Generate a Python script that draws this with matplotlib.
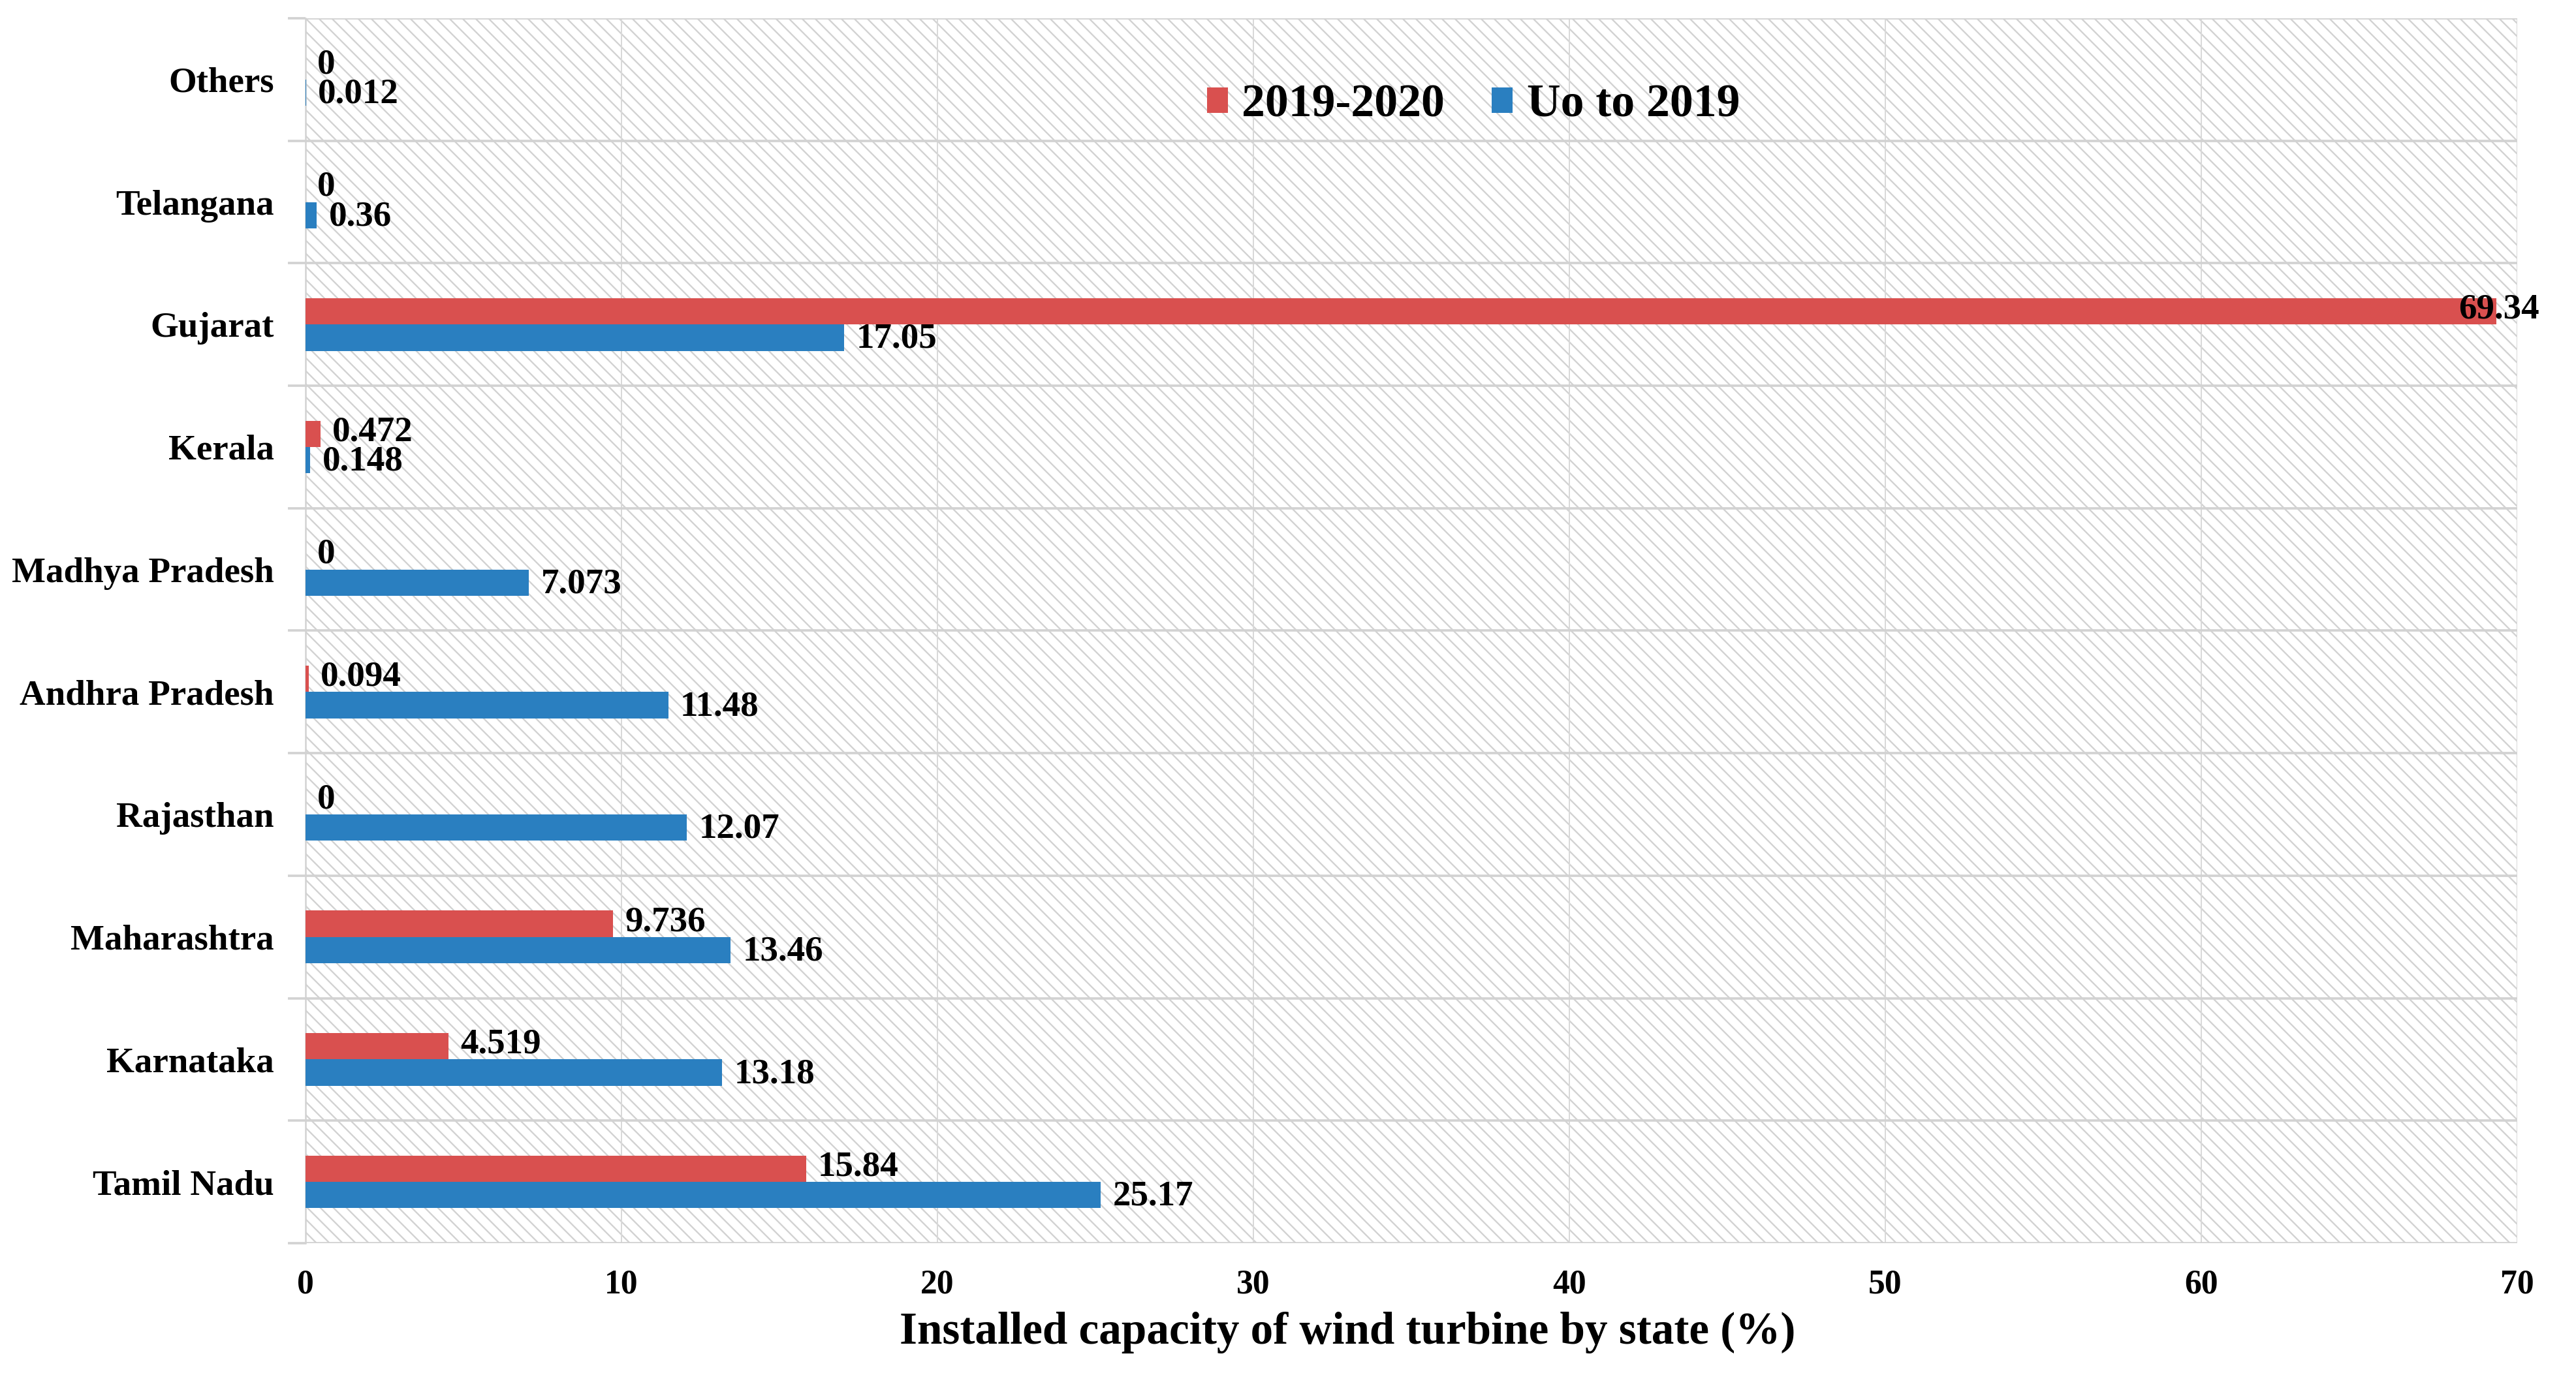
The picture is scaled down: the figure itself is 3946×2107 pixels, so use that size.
import matplotlib
matplotlib.use("Agg")
import matplotlib.pyplot as plt
from matplotlib.patches import Rectangle
import numpy as np

states = ["Tamil Nadu", "Karnataka", "Maharashtra", "Rajasthan", "Andhra Pradesh",
          "Madhya Pradesh", "Kerala", "Gujarat", "Telangana", "Others"]
cap_2019_2020 = [15.84, 4.519, 9.736, 0, 0.094, 0, 0.472, 69.34, 0, 0]
cap_upto_2019 = [25.17, 13.18, 13.46, 12.07, 11.48, 7.073, 0.148, 17.05, 0.36, 0.012]
labels_2019_2020 = ["15.84", "4.519", "9.736", "0", "0.094", "0", "0.472", "69.34", "0", "0"]
labels_upto_2019 = ["25.17", "13.18", "13.46", "12.07", "11.48", "7.073", "0.148", "17.05", "0.36", "0.012"]
series_names = ["2019-2020", "Uo to 2019"]
xticks = [0, 10, 20, 30, 40, 50, 60, 70]

RED = "#d9504f"
BLUE = "#2a7fc0"
FONT = "Liberation Serif"

plt.rcParams["font.family"] = [FONT, "DejaVu Serif"]
plt.rcParams["font.weight"] = "bold"
plt.rcParams["hatch.color"] = "#d2d2d2"
plt.rcParams["hatch.linewidth"] = 1.4

DPI = 120
fig = plt.figure(figsize=(3946 / DPI, 2107 / DPI), dpi=DPI)
ax = fig.add_axes([0.1186, 0.0959, 0.9772 - 0.1186, 0.9867 - 0.0959])

# hatched background
ax.patch.set_facecolor("white")
bg = Rectangle((0, 0), 1, 1, transform=ax.transAxes, facecolor="white",
               edgecolor="#d2d2d2", hatch="\\\\", lw=0, zorder=0)
ax.add_patch(bg)

y = np.arange(len(states))
h = 0.215
ax.barh(y + h / 2, cap_2019_2020, height=h, color=RED, zorder=3, label=series_names[0])
ax.barh(y - h / 2, cap_upto_2019, height=h, color=BLUE, zorder=3, label=series_names[1])

def add_labels(vals, labs, offs, dy):
    for yi, v, s in zip(y, vals, labs):
        dx = 11
        if v > 60:
            dx = -35
        ax.annotate(s, xy=(v, yi + offs), xytext=(dx, dy), textcoords="offset points",
                    ha="left", va="center", fontsize=33, fontweight="bold",
                    fontfamily=FONT, zorder=5, annotation_clip=False)

add_labels(cap_2019_2020, labels_2019_2020, h / 2, 1.5)
add_labels(cap_upto_2019, labels_upto_2019, -h / 2, -1.5)

ax.set_xlim(0, 70)
ax.set_ylim(-0.5, len(states) - 0.5)
ax.set_xticks(xticks)
ax.set_xticklabels([str(t) for t in xticks])
ax.set_yticks(y)
ax.set_yticklabels(states)
ax.set_yticks(np.arange(-0.5, len(states), 1.0), minor=True)

ax.set_axisbelow(True)
ax.grid(axis="x", which="major", color="#d9d9d9", linewidth=1.2, zorder=0.5)
ax.grid(axis="y", which="minor", color="#d2d2d2", linewidth=2.2, zorder=0.5)
ax.grid(axis="y", which="major", visible=False)

ax.tick_params(axis="y", which="major", length=0, pad=29, labelsize=33)
ax.tick_params(axis="y", which="minor", length=16, width=2.2, color="#d2d2d2", direction="out")
ax.tick_params(axis="x", which="both", length=0, pad=24, labelsize=31)
for lbl in ax.get_xticklabels() + ax.get_yticklabels():
    lbl.set_fontweight("bold")
    lbl.set_fontfamily(FONT)

for side in ["top", "right", "bottom"]:
    ax.spines[side].set_visible(False)
ax.spines["left"].set_color("#d2d2d2")
ax.spines["left"].set_linewidth(1.5)

leg = ax.legend(loc="center", bbox_to_anchor=(0.528, 0.929), ncol=2, frameon=False,
                prop={"family": FONT, "weight": "bold", "size": 43},
                handlelength=0.45, handleheight=0.45, handletextpad=0.3,
                columnspacing=1.0)

fig.text(0.523, 0.031, "Installed capacity of wind turbine by state (%)",
         ha="center", va="center", fontsize=41.5, fontweight="bold", fontfamily=FONT)

fig.savefig("out.png", dpi=DPI, facecolor="white")
